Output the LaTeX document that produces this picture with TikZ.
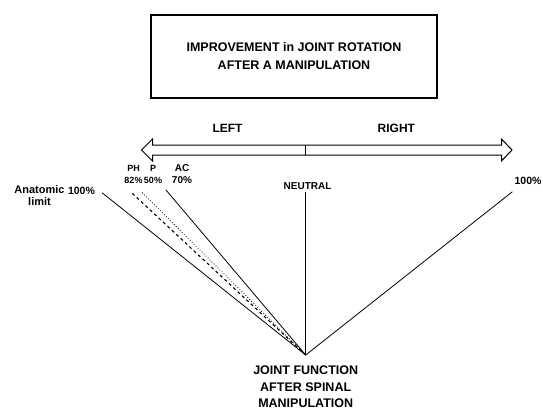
\documentclass[tikz,border=0pt]{standalone}
\usepackage{fontspec}
\setmainfont{Liberation Sans}
\usetikzlibrary{positioning}

\begin{document}
\begin{tikzpicture}[x=1pt,y=-1pt,
    every node/.style={font=\bfseries, inner sep=0pt},
    ray/.style={line width=0.8pt},
    ]
\useasboundingbox (0,0) rectangle (543,410);

% Title box
\node[draw,
    line width=1.3pt,
    minimum width=286pt,
    minimum height=83pt,
    align=center,
    font=\bfseries\fontsize{12.5}{18}\selectfont
    ] (title) at (294,56.5) {IMPROVEMENT in JOINT ROTATION\\AFTER A MANIPULATION};

% Left / right arrow
\coordinate (ltip) at (141.5,150);
\coordinate (rtip) at (512,150);
\coordinate (mid) at (305.7,150);
\draw[line width=1pt, line join=miter] (ltip) -- (152.5,139) -- (152.5,145) -- (501.5,145)
    -- (501.5,139) -- (rtip) -- (501.5,161) -- (501.5,155) -- (152.5,155)
    -- (152.5,161) -- cycle;
\draw[line width=1pt] (305.7,145) -- (305.7,155);

\node[font=\bfseries\fontsize{12}{14}\selectfont] (left) at (227.5,128.5) {LEFT};
\node[font=\bfseries\fontsize{12}{14}\selectfont] (right) at (396.4,128.5) {RIGHT};

% Joint function
\coordinate (apex) at (305.7,355);
\node[below=11pt of apex,
    align=center,
    font=\bfseries\fontsize{12.5}{16.5}\selectfont
    ] (joint) {JOINT FUNCTION\\AFTER SPINAL\\MANIPULATION};

% Ray ends
\coordinate (anat) at (102,192.7);
\coordinate (ph) at (131.6,192.7);
\coordinate (p) at (141,191.5);
\coordinate (ac) at (166,190);
\coordinate (neutral) at (305.7,191.7);
\coordinate (rmax) at (512.4,191.7);

% Labels
\node[align=center, font=\bfseries\fontsize{11}{12}\selectfont] (anatlbl) at (39.5,196) {Anatomic\\limit};
\node[font=\bfseries\fontsize{10.5}{12}\selectfont] (lmaxlbl) at (81.5,190.5) {100\%};
\node[align=center, font=\bfseries\fontsize{9}{12}\selectfont] (phlbl) at (133.5,174) {PH\\82\%};
\node[align=center, font=\bfseries\fontsize{9}{12}\selectfont] (plbl) at (153,174) {P\\50\%};
\node[align=center, font=\bfseries\fontsize{10}{12}\selectfont] (aclbl) at (182,174) {AC\\70\%};
\node[font=\bfseries\fontsize{10}{12}\selectfont] (neutrallbl) at (307.6,185.7) {NEUTRAL};
\node[font=\bfseries\fontsize{10.5}{12}\selectfont] (rmaxlbl) at (528,181) {100\%};

% Rays
\draw[ray] (apex) -- (anat);
\draw[ray, line width=1.1pt, dashed] (apex) -- (ph);
\draw[ray, dotted] (apex) -- (p);
\draw[ray] (apex) -- (ac);
\draw[ray] (apex) -- (neutral);
\draw[ray] (apex) -- (rmax);
\end{tikzpicture}
\end{document}
